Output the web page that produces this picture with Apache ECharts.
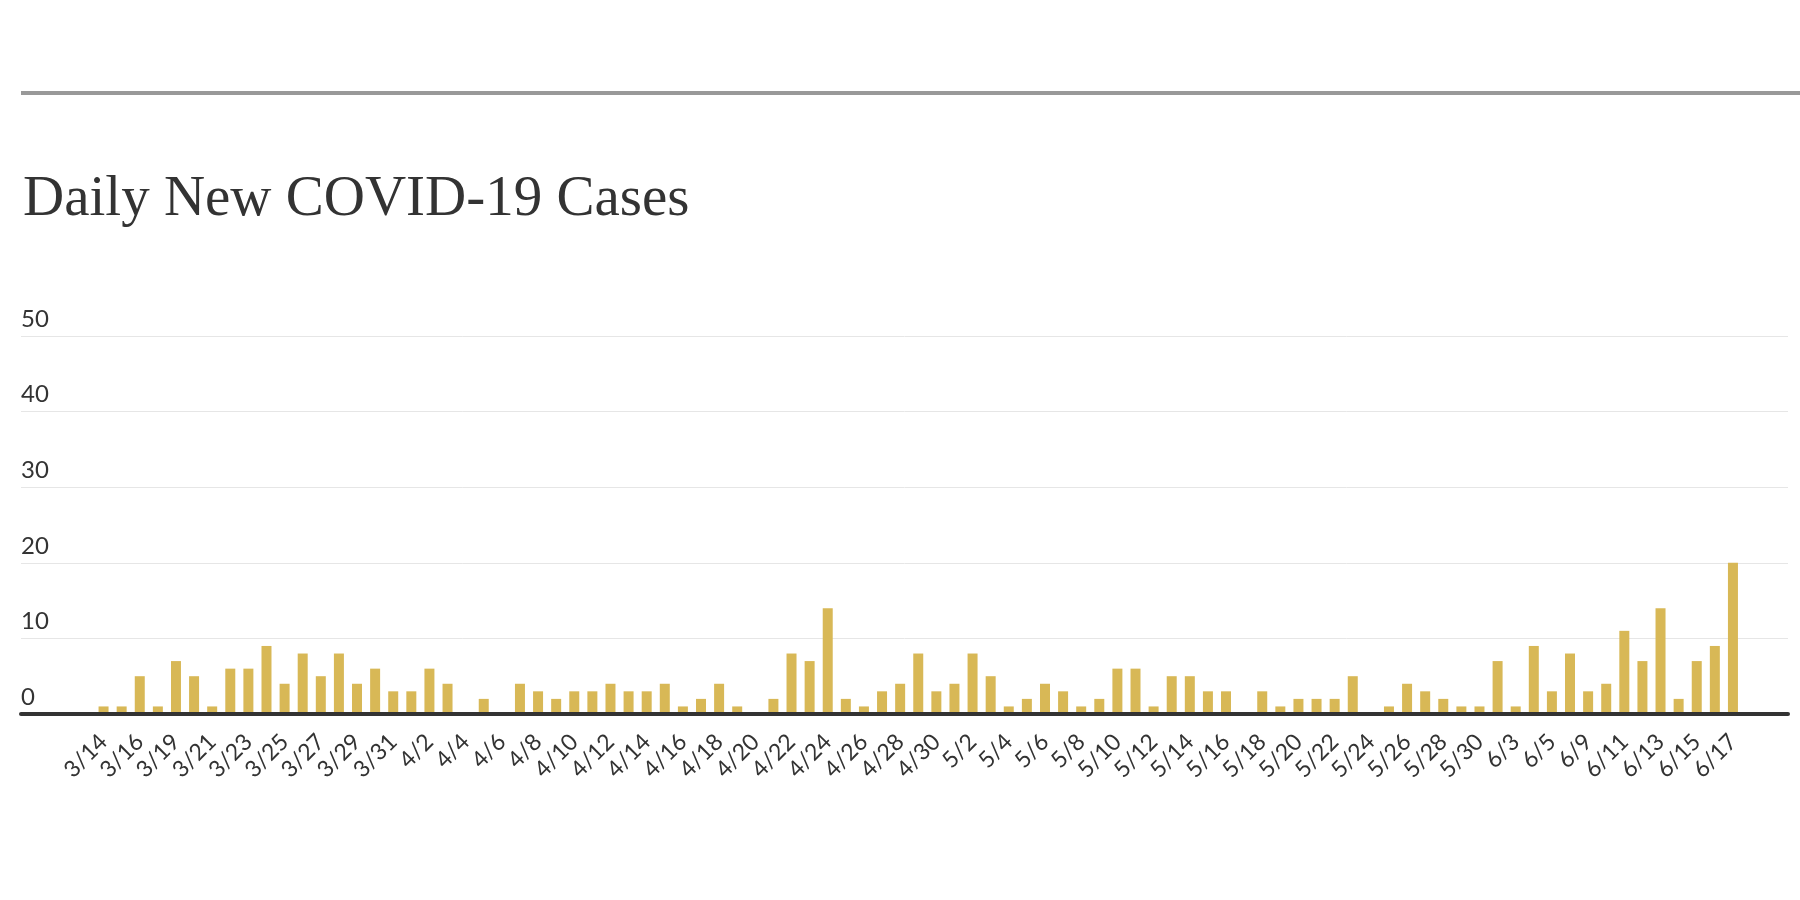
<!DOCTYPE html>
<html>
<head>
<meta charset="utf-8">
<style>
  html, body { margin: 0; padding: 0; background: #ffffff; }
  #chart { width: 1800px; height: 900px; }
</style>
<script src="https://cdn.jsdelivr.net/npm/echarts@6/dist/echarts.min.js"></script>
</head>
<body>
<div id="chart"></div>
<script>
const titleText = 'Daily New COVID-19 Cases';

const dates = [
  '3/14','3/15','3/16','3/18','3/19','3/20','3/21','3/22','3/23','3/24',
  '3/25','3/26','3/27','3/28','3/29','3/30','3/31','4/1','4/2','4/3',
  '4/4','4/5','4/6','4/7','4/8','4/9','4/10','4/11','4/12','4/13',
  '4/14','4/15','4/16','4/17','4/18','4/19','4/20','4/21','4/22','4/23',
  '4/24','4/25','4/26','4/27','4/28','4/29','4/30','5/1','5/2','5/3',
  '5/4','5/5','5/6','5/7','5/8','5/9','5/10','5/11','5/12','5/13',
  '5/14','5/15','5/16','5/17','5/18','5/19','5/20','5/21','5/22','5/23',
  '5/24','5/25','5/26','5/27','5/28','5/29','5/30','6/1','6/3','6/4',
  '6/5','6/8','6/9','6/10','6/11','6/12','6/13','6/14','6/15','6/16',
  '6/17'
];

const newCases = [
  1,1,5,1,7,5,1,6,6,9,
  4,8,5,8,4,6,3,3,6,4,
  0,2,0,4,3,2,3,3,4,3,
  3,4,1,2,4,1,0,2,8,7,
  14,2,1,3,4,8,3,4,8,5,
  1,2,4,3,1,2,6,6,1,5,
  5,3,3,0,3,1,2,2,2,5,
  0,1,4,3,2,1,1,7,1,9,
  3,8,3,4,11,7,14,2,7,9,
  20
];

const yMin = 0;
const yMax = 50;
const yStep = 10;

const chart = echarts.init(document.getElementById('chart'));

const gridTop = 336;
const gridBottom = 186;

chart.setOption({
  backgroundColor: '#ffffff',
  animation: false,
  title: {
    text: titleText,
    left: 18,
    top: 167,
    textStyle: {
      fontFamily: 'Liberation Serif',
      fontWeight: 'normal',
      fontSize: 57,
      color: '#333333'
    }
  },
  graphic: [
    {
      type: 'line',
      shape: { x1: 21, y1: 93, x2: 1800, y2: 93 },
      style: { stroke: '#999999', lineWidth: 4 }
    }
  ],
  grid: [
    { left: 21, right: 12, top: gridTop, bottom: gridBottom },
    { left: 94.5, right: 58, top: gridTop, bottom: gridBottom }
  ],
  xAxis: [
    {
      gridIndex: 0,
      type: 'value',
      min: 0,
      max: 1,
      z: 5,
      axisLine: { show: true, onZero: false, lineStyle: { color: '#333333', width: 4 } },
      axisTick: { show: false },
      axisLabel: { show: false },
      splitLine: { show: false }
    },
    {
      gridIndex: 1,
      type: 'category',
      data: dates,
      boundaryGap: true,
      axisLine: { show: false },
      axisTick: { show: false },
      axisLabel: {
        interval: 1,
        rotate: 45,
        margin: 24,
        fontFamily: 'Lato',
        fontSize: 23,
        color: '#333333'
      }
    }
  ],
  yAxis: [
    {
      gridIndex: 0,
      type: 'value',
      min: yMin,
      max: yMax,
      interval: yStep,
      axisLine: { show: false },
      axisTick: { show: false },
      axisLabel: {
        inside: true,
        margin: 0,
        verticalAlign: 'bottom',
        padding: [0, 0, 5, 0],
        fontFamily: 'Lato',
        fontSize: 24,
        color: '#333333'
      },
      splitLine: { show: true, lineStyle: { color: '#e6e6e6', width: 1 } }
    },
    {
      gridIndex: 1,
      type: 'value',
      min: yMin,
      max: yMax,
      interval: yStep,
      show: false,
      splitLine: { show: false }
    }
  ],
  series: [
    {
      type: 'bar',
      xAxisIndex: 1,
      yAxisIndex: 1,
      data: newCases,
      barWidth: 10,
      itemStyle: { color: '#d8b856' }
    }
  ]
});
</script>
</body>
</html>
